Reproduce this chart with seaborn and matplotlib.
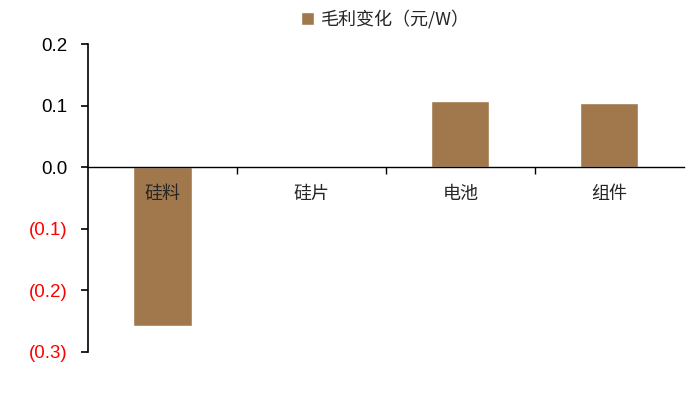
import matplotlib
matplotlib.use("Agg")
import matplotlib.pyplot as plt
import matplotlib.ticker as mticker
import seaborn as sns
import pandas as pd

categories = ["硅料", "硅片", "电池", "组件"]
margin_change = [-0.258, 0.0, 0.108, 0.105]
series_name = "毛利变化（元/W）"
y_ticks = [-0.3, -0.2, -0.1, 0.0, 0.1, 0.2]

df = pd.DataFrame({"环节": categories, "值": margin_change})

sns.set_style("white")
plt.rcParams["font.family"] = ["Liberation Sans", "Noto Sans CJK SC", "DejaVu Sans"]

fig = plt.figure(figsize=(6.99, 4.05), dpi=100)
ax = fig.add_axes([0.126, 0.131, 0.852, 0.760])

bar_color = "#A0784C"
sns.barplot(data=df, x="环节", y="值", color=bar_color, width=0.39,
            saturation=1, ax=ax, label=series_name)

ax.set_ylim(-0.3, 0.2)
ax.set_xlim(-0.5, len(categories) - 0.5)
ax.set_yticks(y_ticks)

def fmt(v, pos):
    if v < -1e-9:
        return f"({abs(v):.1f})"
    return f"{v:.1f}"

ax.yaxis.set_major_formatter(mticker.FuncFormatter(fmt))
for lbl, v in zip(ax.get_yticklabels(), y_ticks):
    lbl.set_color("#FF0000" if v < 0 else "black")
ax.tick_params(axis="y", direction="out", length=5, width=1.2, color="black",
               labelsize=13.5, pad=10, left=True)

# category axis sits on the zero line, drawn above the bars
ax.set_axisbelow(False)
for s in ["top", "right"]:
    ax.spines[s].set_visible(False)
ax.spines["left"].set_color("black")
ax.spines["left"].set_linewidth(1.2)
ax.spines["bottom"].set_position(("data", 0))
ax.spines["bottom"].set_color("black")
ax.spines["bottom"].set_linewidth(1.0)

ax.set_xticks(range(len(categories)))
ax.set_xticklabels(categories, fontfamily=["Noto Sans CJK SC"], fontsize=13)
ax.xaxis.set_minor_locator(mticker.FixedLocator([0.5, 1.5, 2.5]))
ax.tick_params(axis="x", which="major", length=0, pad=13, bottom=True)
ax.tick_params(axis="x", which="minor", length=5, width=1.0, color="black",
               direction="out", bottom=True)

ax.set_xlabel("")
ax.set_ylabel("")
ax.grid(False)

leg = ax.legend(loc="lower center", bbox_to_anchor=(0.5, 1.02), frameon=False,
                handlelength=0.7, handleheight=0.7, handletextpad=0.4,
                prop={"family": ["Noto Sans CJK SC"], "size": 13},
                borderaxespad=0.1)

fig.savefig("out.png", dpi=100)
